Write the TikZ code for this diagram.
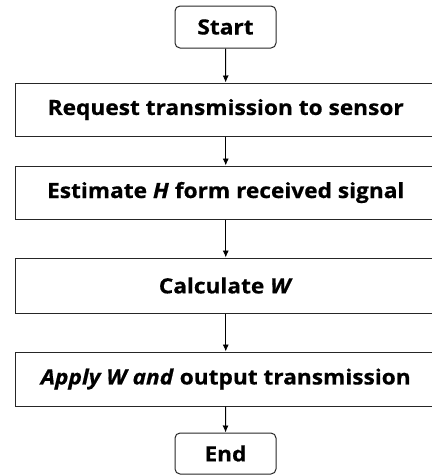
\documentclass[tikz,border=0pt]{standalone}
\usepackage{fontspec}
\setmainfont{Open Sans}[FakeStretch=1.08,BoldFeatures={FakeBold=0.6},BoldItalicFeatures={FakeBold=0.6}]
\usetikzlibrary{arrows.meta}
\begin{document}
\begin{tikzpicture}[x=1pt,y=1pt,
  box/.style={draw=black!85,line width=1pt,minimum width=420.5pt,inner sep=0pt,font=\fontsize{21}{24}\selectfont\bfseries},
  term/.style={draw=black!85,line width=1pt,rounded corners=5pt,minimum width=101pt,minimum height=42pt,inner sep=0pt,font=\fontsize{21}{24}\selectfont\bfseries},
  arr/.style={line width=0.9pt,-{Latex[length=7pt,width=6pt]}}]
\useasboundingbox (0,0) rectangle (432,-475);
\begin{scope}
\clip (0,0) rectangle (432,-475);
\node[term] (start) at (225.5,-27) {Start};
\node[box,minimum height=53pt] (b1) at (225.75,-109.5) {Request transmission to sensor};
\node[box,minimum height=53pt] (b2) at (225.75,-192.5) {Estimate \textit{H} form received signal};
\node[box,minimum height=55pt] (b3) at (225.75,-285.5) {Calculate \textit{W}};
\node[box,minimum height=54pt] (b4) at (225.75,-379) {\textit{Apply W and} output transmission};
\node[term,minimum height=41pt] (end) at (225.5,-453.5) {End};
\end{scope}
\draw[arr] (start) -- (b1);
\draw[arr] (b1) -- (b2);
\draw[arr] (b2) -- (b3);
\draw[arr] (b3) -- (b4);
\draw[arr] (b4) -- (end);
\end{tikzpicture}
\end{document}
